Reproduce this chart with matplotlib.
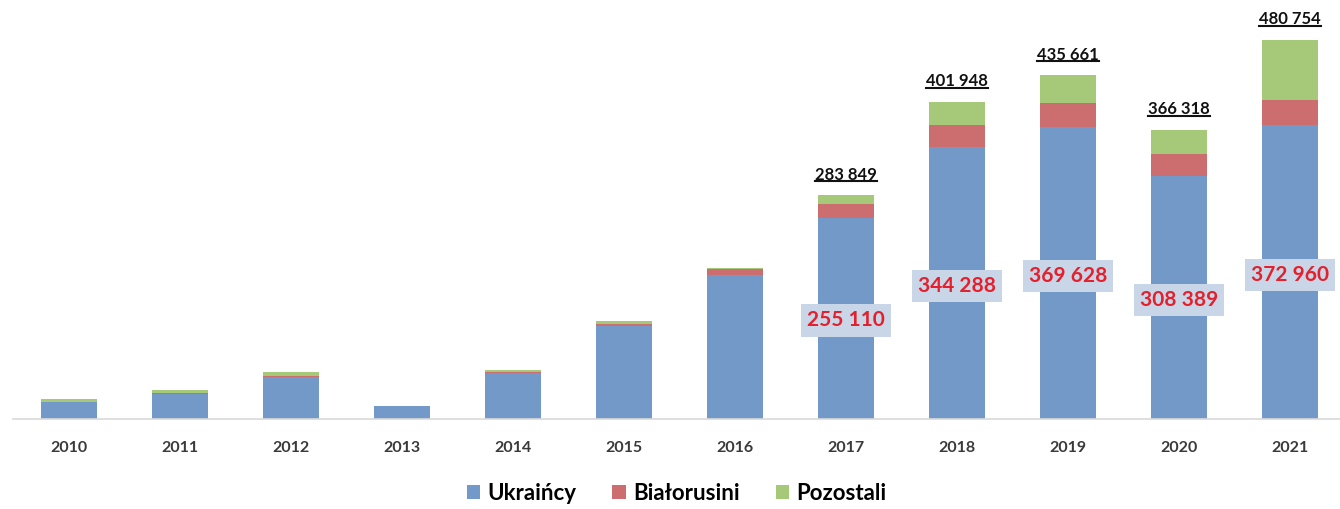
import matplotlib.pyplot as plt
from matplotlib.lines import Line2D
import numpy as np

plt.rcParams['font.family'] = ['Lato', 'DejaVu Sans']

years = ['2010', '2011', '2012', '2013', '2014', '2015',
         '2016', '2017', '2018', '2019', '2020', '2021']
ukraincy = [21000, 32000, 53000, 16000, 58000, 118000,
            182500, 255110, 344288, 369628, 308389, 372960]
bialorusini = [500, 800, 1500, 300, 1000, 2500,
               7000, 17000, 28500, 31000, 27000, 31000]
pozostali = [3500, 4000, 5500, 500, 3000, 3500,
             2500, 11739, 29160, 35033, 30929, 76794]
# totals printed above the bars (only from 2017 on)
totals = [None] * 7 + [283849, 401948, 435661, 366318, 480754]
red_labels = [None] * 7 + [255110, 344288, 369628, 308389, 372960]

c_blue = '#7399c8'
c_red = '#cc6e6f'
c_green = '#a6c879'

fig = plt.figure(figsize=(13.4, 5.09), dpi=100)
ax = fig.add_axes([0.01, 0.1768, 0.99, 0.8232])

x = np.arange(len(years))
ukr = np.array(ukraincy)
bel = np.array(bialorusini)
poz = np.array(pozostali)
w = 0.5

ax.bar(x, ukr, w, color=c_blue, label='Ukraińcy')
ax.bar(x, bel, w, bottom=ukr, color=c_red, label='Białorusini')
ax.bar(x, poz, w, bottom=ukr + bel, color=c_green, label='Pozostali')

ax.set_xlim(-0.5, 11.45)
ax.set_ylim(0, 531000)
ax.set_xticks(x)
ax.set_xticklabels(years, fontsize=11.5, color='#3a3a3a', fontweight='bold')
ax.tick_params(axis='x', length=0, pad=16)
ax.set_yticks([])
for s in ['top', 'right', 'left']:
    ax.spines[s].set_visible(False)
ax.spines['bottom'].set_color('#d9d9d9')
ax.spines['bottom'].set_linewidth(1.2)


def fmt(v):
    return f'{v:,}'.replace(',', ' ')


total_texts = []
for i, t in enumerate(totals):
    if t is None:
        continue
    top = ukr[i] + bel[i] + poz[i]
    txt = ax.annotate(fmt(t), (x[i], top), xytext=(0, 9),
                      textcoords='offset points', ha='center', va='bottom',
                      fontsize=12, fontweight='bold', color='#111111')
    total_texts.append(txt)

for i, v in enumerate(red_labels):
    if v is None:
        continue
    ax.text(x[i], ukr[i] * 0.49, fmt(v), ha='center', va='center',
            fontsize=15, fontweight='bold', color='#e3202c',
            bbox=dict(boxstyle='square,pad=0.3', fc='#c9d6e8', ec='none'))

fig.legend(loc='center', bbox_to_anchor=(0.505, 0.03), ncol=3, frameon=False,
           handlelength=0.6, handleheight=0.6, handletextpad=0.35,
           columnspacing=1.6, prop={'weight': 'bold', 'size': 16})

# underline the totals
fig.canvas.draw()
renderer = fig.canvas.get_renderer()
inv = fig.transFigure.inverted()
for txt in total_texts:
    bb = txt.get_window_extent(renderer)
    (x0, y0), (x1, _) = inv.transform([(bb.x0, bb.y0 + 1.5), (bb.x1, bb.y0 + 1.5)])
    fig.add_artist(Line2D([x0, x1], [y0, y0], transform=fig.transFigure,
                          color='#111111', linewidth=1.5))

fig.savefig('out.png', dpi=100, facecolor='white')
